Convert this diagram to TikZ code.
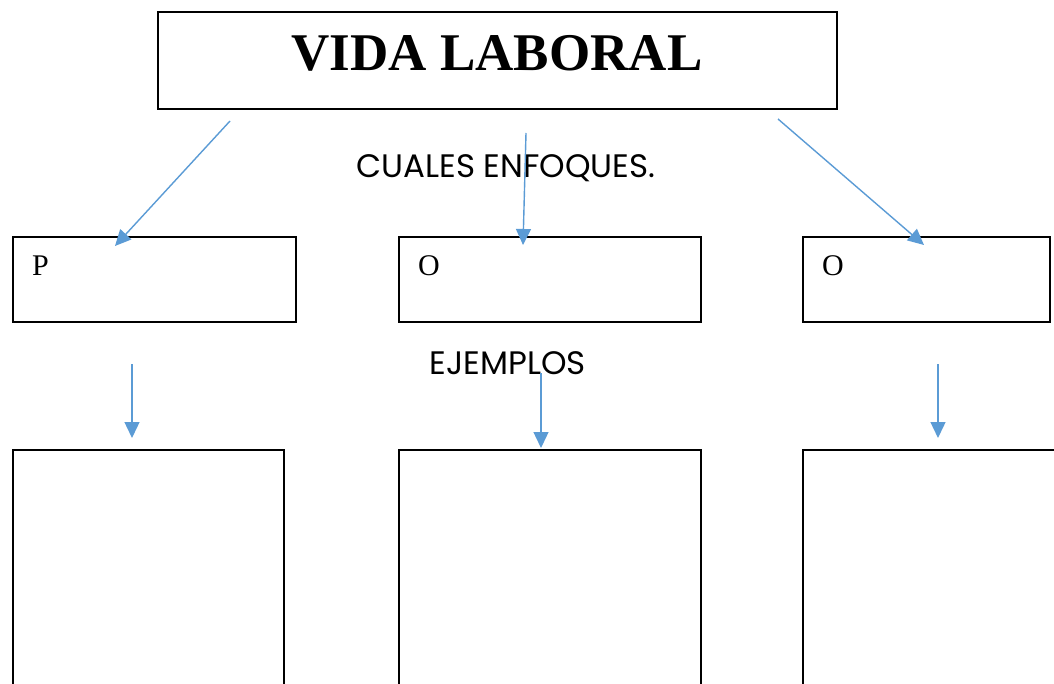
\documentclass[tikz,border=0pt]{standalone}
\usepackage{fontspec}
\setmainfont{Liberation Serif}
\newfontfamily\gothic{Poppins}
\usetikzlibrary{arrows.meta}
\definecolor{arrowblue}{HTML}{5B9BD5}
\tikzset{
  box/.style={draw=black, line width=1.6pt, anchor=north west, inner sep=0pt},
  conn/.style={draw=arrowblue, line width=1.4pt, -{Triangle[width=15pt,length=16pt]}},
  lbl/.style={anchor=base west, inner sep=0pt, font=\fontsize{30}{30}\selectfont},
  caption/.style={inner sep=0pt, text depth=0pt, font=\gothic\fontsize{32.5}{32.5}\selectfont}
}
\begin{document}
\begin{tikzpicture}[x=1pt,y=-1pt]
\useasboundingbox (0,0) rectangle (1054,684);
% title
\node[box, minimum width=679pt, minimum height=97pt] (title) at (157,11) {};
\node[inner sep=0pt, text depth=0pt, font=\bfseries\fontsize{53}{53}\selectfont] (titletext) at (497,53) {VIDA LABORAL};
% captions
\node[caption] (enfoques) at (506,166) {CUALES ENFOQUES.};
\node[caption] (ejemplos) at (508,363) {EJEMPLOS};
% middle boxes
\node[box, minimum width=283pt, minimum height=85pt] (p) at (12,236) {};
\node[box, minimum width=302pt, minimum height=85pt] (o1) at (398,236) {};
\node[box, minimum width=247pt, minimum height=85pt] (o2) at (802,236) {};
\node[lbl] (plbl) at (32,276) {P};
\node[lbl] (o1lbl) at (418,276) {O};
\node[lbl] (o2lbl) at (822,276) {O};
% bottom boxes
\node[box, minimum width=271pt, minimum height=260pt] (b1) at (12,449) {};
\node[box, minimum width=302pt, minimum height=260pt] (b2) at (398,449) {};
\node[box, minimum width=270pt, minimum height=260pt] (b3) at (802,449) {};
% connector ends
\coordinate (s1) at (230,121);
\coordinate (e1) at (115,246);
\coordinate (s2) at (526,133);
\coordinate (e2) at (523,245);
\coordinate (s3) at (778,119);
\coordinate (e3) at (924,245);
\coordinate (s4) at (132,364);
\coordinate (e4) at (132,438);
\coordinate (s5) at (541,373);
\coordinate (e5) at (541,448);
\coordinate (s6) at (938,364);
\coordinate (e6) at (938,438);
\draw[conn] (s1) -- (e1);
\draw[conn] (s2) -- (e2);
\draw[conn] (s3) -- (e3);
\draw[conn] (s4) -- (e4);
\draw[conn] (s5) -- (e5);
\draw[conn] (s6) -- (e6);
\end{tikzpicture}
\end{document}
